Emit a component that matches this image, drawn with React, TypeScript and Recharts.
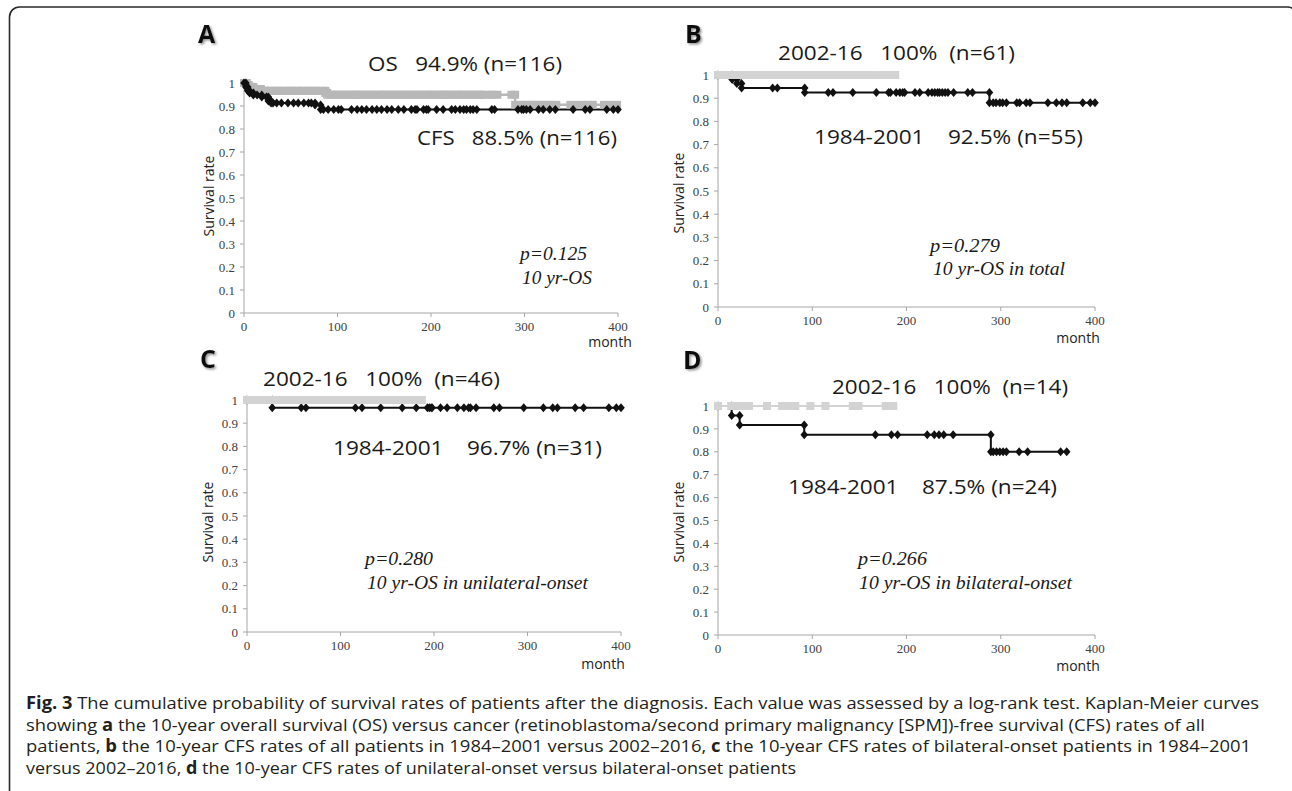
import React from "react";
import { LineChart, Line, XAxis, YAxis } from "recharts";

type Pt = [number, number];

// A: overall survival (gray) vs cancer-free survival (black), all patients
const osAll: Pt[] = [
  [0, 1], [3, 1], [3, 0.991], [5, 0.991], [5, 0.983], [8, 0.983], [10, 0.983], [10, 0.974], [13, 0.974], [16, 0.974],
  [18, 0.974], [18, 0.966], [21, 0.966], [23, 0.966], [27, 0.966], [29, 0.966], [33, 0.966], [36, 0.966], [38, 0.966],
  [42, 0.966], [45, 0.966], [49, 0.966], [51, 0.966], [55, 0.966], [58, 0.966], [61, 0.966], [64, 0.966], [68, 0.966],
  [70, 0.966], [74, 0.966], [77, 0.966], [80, 0.966], [84, 0.966], [87, 0.966], [87, 0.957], [89, 0.957], [89, 0.949],
  [92, 0.949], [95, 0.949], [99, 0.949], [101, 0.949], [105, 0.949], [108, 0.949], [111, 0.949], [115, 0.949],
  [118, 0.949], [120, 0.949], [124, 0.949], [127, 0.949], [130, 0.949], [134, 0.949], [136, 0.949], [140, 0.949],
  [143, 0.949], [147, 0.949], [150, 0.949], [152, 0.949], [156, 0.949], [159, 0.949], [162, 0.949], [166, 0.949],
  [168, 0.949], [172, 0.949], [175, 0.949], [178, 0.949], [182, 0.949], [185, 0.949], [188, 0.949], [191, 0.949],
  [195, 0.949], [198, 0.949], [200, 0.949], [204, 0.949], [207, 0.949], [211, 0.949], [214, 0.949], [216, 0.949],
  [220, 0.949], [223, 0.949], [227, 0.949], [230, 0.949], [233, 0.949], [236, 0.949], [240, 0.949], [243, 0.949],
  [246, 0.949], [250, 0.949], [253, 0.949], [255, 0.949], [262, 0.949], [266, 0.949], [271, 0.949], [286, 0.949],
  [290, 0.949], [290, 0.905], [296, 0.905], [300, 0.905], [304, 0.905], [308, 0.905], [312, 0.905], [316, 0.905],
  [320, 0.905], [325, 0.905], [330, 0.905], [334, 0.905], [349, 0.905], [355, 0.905], [362, 0.905], [368, 0.905],
  [373, 0.905], [385, 0.905], [392, 0.905], [399, 0.905],
];
const cfsAll: Pt[] = [
  [0, 1], [2, 1], [2, 0.983], [4, 0.983], [4, 0.966], [6, 0.966], [6, 0.957], [10, 0.957], [10, 0.948], [14, 0.948],
  [19, 0.948], [19, 0.939], [24, 0.939], [26, 0.939], [26, 0.922], [29, 0.922], [29, 0.913], [31, 0.913], [35, 0.913],
  [40, 0.913], [47, 0.913], [53, 0.913], [58, 0.913], [64, 0.913], [69, 0.913], [72, 0.913], [76, 0.913], [76, 0.904],
  [82, 0.904], [82, 0.885], [85, 0.885], [90, 0.885], [96, 0.885], [101, 0.885], [104, 0.885], [115, 0.885],
  [121, 0.885], [126, 0.885], [131, 0.885], [137, 0.885], [142, 0.885], [147, 0.885], [153, 0.885], [158, 0.885],
  [165, 0.885], [171, 0.885], [179, 0.885], [183, 0.885], [185, 0.885], [192, 0.885], [195, 0.885], [197, 0.885],
  [206, 0.885], [213, 0.885], [222, 0.885], [226, 0.885], [231, 0.885], [235, 0.885], [238, 0.885], [242, 0.885],
  [245, 0.885], [249, 0.885], [265, 0.885], [268, 0.885], [293, 0.885], [297, 0.885], [299, 0.885], [302, 0.885],
  [306, 0.885], [315, 0.885], [320, 0.885], [327, 0.885], [333, 0.885], [352, 0.885], [365, 0.885], [370, 0.885],
  [388, 0.885], [395, 0.885], [400, 0.885],
];

// B: all patients, 2002-16 (gray) vs 1984-2001 (black)
const b2002: Pt[] = [
  [0, 1], [2, 1], [5, 1], [7, 1], [10, 1], [12, 1], [15, 1], [17, 1], [19, 1], [22, 1], [25, 1], [27, 1], [30, 1],
  [33, 1], [36, 1], [39, 1], [42, 1], [45, 1], [48, 1], [51, 1], [54, 1], [57, 1], [60, 1], [63, 1], [66, 1], [69, 1],
  [72, 1], [75, 1], [78, 1], [81, 1], [84, 1], [87, 1], [90, 1], [94, 1], [98, 1], [102, 1], [106, 1], [110, 1],
  [114, 1], [118, 1], [121, 1], [124, 1], [128, 1], [132, 1], [136, 1], [140, 1], [144, 1], [148, 1], [152, 1],
  [157, 1], [162, 1], [170, 1], [175, 1], [180, 1], [184, 1], [188, 1],
];
const b1984: Pt[] = [
  [0, 1], [15, 1], [15, 0.981], [20, 0.981], [20, 0.963], [25, 0.963], [25, 0.944], [58, 0.944], [63, 0.944],
  [92, 0.944], [92, 0.925], [117, 0.925], [122, 0.925], [143, 0.925], [168, 0.925], [181, 0.925], [183, 0.925],
  [189, 0.925], [193, 0.925], [196, 0.925], [198, 0.925], [209, 0.925], [214, 0.925], [223, 0.925], [227, 0.925],
  [230, 0.925], [233, 0.925], [235, 0.925], [238, 0.925], [241, 0.925], [244, 0.925], [250, 0.925], [265, 0.925],
  [270, 0.925], [288, 0.925], [288, 0.88], [292, 0.88], [295, 0.88], [299, 0.88], [302, 0.88], [306, 0.88],
  [317, 0.88], [320, 0.88], [327, 0.88], [331, 0.88], [350, 0.88], [359, 0.88], [365, 0.88], [370, 0.88],
  [387, 0.88], [395, 0.88], [400, 0.88],
];

// C: unilateral-onset, 2002-16 (gray) vs 1984-2001 (black)
const c2002: Pt[] = [
  [0, 1], [3, 1], [6, 1], [9, 1], [12, 1], [16, 1], [19, 1], [22, 1], [26, 1], [29, 1], [33, 1], [36, 1], [40, 1],
  [43, 1], [47, 1], [50, 1], [54, 1], [58, 1], [61, 1], [65, 1], [68, 1], [72, 1], [76, 1], [80, 1], [84, 1], [88, 1],
  [92, 1], [96, 1], [100, 1], [105, 1], [109, 1], [113, 1], [117, 1], [119, 1], [124, 1], [129, 1], [134, 1],
  [139, 1], [144, 1], [149, 1], [153, 1], [160, 1], [167, 1], [174, 1], [180, 1], [187, 1],
];
const c1984: Pt[] = [
  [0, 1], [27, 1], [27, 0.967], [58, 0.967], [63, 0.967], [116, 0.967], [123, 0.967], [143, 0.967], [166, 0.967],
  [181, 0.967], [193, 0.967], [195, 0.967], [197, 0.967], [198, 0.967], [207, 0.967], [214, 0.967], [225, 0.967],
  [232, 0.967], [237, 0.967], [239, 0.967], [245, 0.967], [264, 0.967], [270, 0.967], [296, 0.967], [317, 0.967],
  [327, 0.967], [332, 0.967], [351, 0.967], [360, 0.967], [387, 0.967], [395, 0.967], [400, 0.967],
];

// D: bilateral-onset, 2002-16 (gray) vs 1984-2001 (black)
const d2002: Pt[] = [
  [0, 1], [14, 1], [20, 1], [27, 1], [33, 1], [52, 1], [68, 1], [75, 1], [82, 1], [98, 1], [114, 1], [143, 1],
  [149, 1], [178, 1], [186, 1],
];
const d1984: Pt[] = [
  [0, 1], [14.5, 1], [14.5, 0.958], [23, 0.958], [23, 0.917], [91.5, 0.917], [91.5, 0.875], [167, 0.875],
  [184, 0.875], [190.5, 0.875], [222, 0.875], [229.5, 0.875], [234.5, 0.875], [239.5, 0.875], [249.5, 0.875],
  [289.5, 0.875], [289.5, 0.8], [292, 0.8], [295.5, 0.8], [299, 0.8], [302.5, 0.8], [306, 0.8], [319.5, 0.8],
  [328.5, 0.8], [363.5, 0.8], [370, 0.8],
];

const xTicks = [0, 100, 200, 300, 400];
const yTicks = [0, 0.1, 0.2, 0.3, 0.4, 0.5, 0.6, 0.7, 0.8, 0.9, 1];

// caption: [text, bold]
const captionLines: [string, boolean][][] = [
  [["Fig. 3", true], [" The cumulative probability of survival rates of patients after the diagnosis. Each value was assessed by a log-rank test. Kaplan-Meier curves", false]],
  [["showing ", false], ["a", true], [" the 10-year overall survival (OS) versus cancer (retinoblastoma/second primary malignancy [SPM])-free survival (CFS) rates of all", false]],
  [["patients, ", false], ["b", true], [" the 10-year CFS rates of all patients in 1984\u20132001 versus 2002\u20132016, ", false], ["c", true], [" the 10-year CFS rates of bilateral-onset patients in 1984\u20132001", false]],
  [["versus 2002\u20132016, ", false], ["d", true], [" the 10-year CFS rates of unilateral-onset versus bilateral-onset patients", false]],
];

const SERIF = '"Liberation Serif", "Times New Roman", serif';
const SANS = '"Open Sans", "Noto Sans", sans-serif';

type Series = { data: Pt[]; color: string; marker: "diamond" | "square"; width: number };

const toRows = (pts: Pt[]) => pts.map(([t, s]) => ({ t, s }));

function makeDot(kind: "diamond" | "square", color: string) {
  // eslint-disable-next-line @typescript-eslint/no-explicit-any
  return (p: any) => {
    const { cx, cy, index } = p;
    if (cx == null || cy == null) return <g key={`e-${index}`} />;
    if (kind === "diamond") {
      return (
        <path
          key={`m-${index}`}
          d={`M${cx},${cy - 4.5}L${cx + 3.8},${cy}L${cx},${cy + 4.5}L${cx - 3.8},${cy}Z`}
          fill={color}
        />
      );
    }
    return <rect key={`m-${index}`} x={cx - 4} y={cy - 4} width={8} height={8} fill={color} />;
  };
}

function KMPanel({ x0, y0, x1, y1, series }: { x0: number; y0: number; x1: number; y1: number; series: Series[] }) {
  const padL = 50, padT = 10, padR = 20, padB = 30;
  const w = x1 - x0 + padL + padR;
  const h = y1 - y0 + padT + padB;
  const tickStyle = { fontFamily: SERIF, fontSize: 13, fill: "#404040" };
  return (
    <div style={{ position: "absolute", left: x0 - padL, top: y0 - padT, width: w, height: h }}>
      <LineChart width={w} height={h} margin={{ top: padT, right: padR, left: 0, bottom: 0 }} style={{ overflow: "visible" }}>
        <XAxis
          type="number"
          dataKey="t"
          domain={[0, 400]}
          ticks={xTicks}
          interval={0}
          height={padB}
          tickSize={4}
          tickMargin={5}
          axisLine={{ stroke: "#a6a6a6" }}
          tickLine={{ stroke: "#a6a6a6" }}
          tick={tickStyle}
        />
        <YAxis
          type="number"
          dataKey="s"
          domain={[0, 1]}
          ticks={yTicks}
          interval={0}
          width={padL}
          tickSize={4}
          tickMargin={5}
          tickFormatter={(v: number) => (v === 0 || v === 1 ? String(v) : v.toFixed(1))}
          axisLine={{ stroke: "#a6a6a6" }}
          tickLine={{ stroke: "#a6a6a6" }}
          tick={tickStyle}
        />
        {series.map((s, i) => (
          <Line
            key={i}
            data={toRows(s.data)}
            dataKey="s"
            type="linear"
            stroke={s.color}
            strokeWidth={s.width}
            dot={makeDot(s.marker, s.color)}
            activeDot={false}
            isAnimationActive={false}
          />
        ))}
      </LineChart>
    </div>
  );
}

const panels = [
  {
    letter: "A", lx: 198, ly: 43, x0: 244, y0: 83, x1: 618, y1: 313,
    series: [
      { data: osAll, color: "#b8b8b8", marker: "square", width: 2.5 },
      { data: cfsAll, color: "#111111", marker: "diamond", width: 2 },
    ] as Series[],
    notes: [
      { text: "OS   94.9% (n=116)", x: 368, y: 71, w: 194 },
      { text: "CFS   88.5% (n=116)", x: 417, y: 145, w: 200 },
    ],
    stats: [
      { text: "p=0.125", x: 520, y: 260, w: 67 },
      { text: "10 yr-OS", x: 522, y: 284, w: 70 },
    ],
    ylab: [208, 196], month: [610, 347],
  },
  {
    letter: "B", lx: 685, ly: 43, x0: 718, y0: 75, x1: 1095, y1: 307,
    series: [
      { data: b1984, color: "#111111", marker: "diamond", width: 2 },
      { data: b2002, color: "#d3d3d3", marker: "square", width: 2 },
    ] as Series[],
    notes: [
      { text: "2002-16   100%  (n=61)", x: 778, y: 60, w: 237 },
      { text: "1984-2001    92.5% (n=55)", x: 814, y: 144, w: 269 },
    ],
    stats: [
      { text: "p=0.279", x: 930, y: 252, w: 70 },
      { text: "10 yr-OS in total", x: 933, y: 275, w: 132 },
    ],
    ylab: [678, 193], month: [1078, 343],
  },
  {
    letter: "C", lx: 200, ly: 368, x0: 247, y0: 400, x1: 621, y1: 632,
    series: [
      { data: c1984, color: "#111111", marker: "diamond", width: 2 },
      { data: c2002, color: "#d3d3d3", marker: "square", width: 2 },
    ] as Series[],
    notes: [
      { text: "2002-16   100%  (n=46)", x: 263, y: 386, w: 237 },
      { text: "1984-2001    96.7% (n=31)", x: 333, y: 455, w: 269 },
    ],
    stats: [
      { text: "p=0.280", x: 365, y: 565, w: 68 },
      { text: "10 yr-OS in unilateral-onset", x: 367, y: 589, w: 221 },
    ],
    ylab: [207, 522], month: [603, 669],
  },
  {
    letter: "D", lx: 683, ly: 369, x0: 718, y0: 406, x1: 1095, y1: 635,
    series: [
      { data: d1984, color: "#111111", marker: "diamond", width: 2 },
      { data: d2002, color: "#d3d3d3", marker: "square", width: 2 },
    ] as Series[],
    notes: [
      { text: "2002-16   100%  (n=14)", x: 832, y: 394, w: 236 },
      { text: "1984-2001    87.5% (n=24)", x: 788, y: 494, w: 269 },
    ],
    stats: [
      { text: "p=0.266", x: 858, y: 565, w: 69 },
      { text: "10 yr-OS in bilateral-onset", x: 859, y: 589, w: 213 },
    ],
    ylab: [678, 522], month: [1078, 671],
  },
];

const captionWidths = [1233, 1179, 1225, 770];

export default function App() {
  return (
    <div style={{ position: "absolute", left: 0, top: 0, width: 1292, height: 791, background: "#fff", overflow: "hidden" }}>
      <svg width={1292} height={791} style={{ position: "absolute", left: 0, top: 0 }}>
        <defs>
          <filter id="shadow" x="-20%" y="-20%" width="160%" height="160%">
            <feDropShadow dx="1.5" dy="1.5" stdDeviation="0.8" floodColor="#777" floodOpacity="0.8" />
          </filter>
        </defs>
        <rect x={9.5} y={7} width={1288} height={800} rx={10} fill="none" stroke="#2a2a2a" strokeWidth={1.6} />
        {panels.map((p) => (
          <g key={p.letter}>
            <text x={p.lx} y={p.ly} fontFamily={SANS} fontWeight={700} fontSize={25} fill="#111" filter="url(#shadow)">
              {p.letter}
            </text>
            {p.notes.map((n) => (
              <text key={n.text} x={n.x} y={n.y} fontFamily={SANS} fontSize={20} fill="#1a1a1a"
                textLength={n.w} lengthAdjust="spacingAndGlyphs" style={{ whiteSpace: "pre" }}>
                {n.text}
              </text>
            ))}
            {p.stats.map((n) => (
              <text key={n.text} x={n.x} y={n.y} fontFamily={SERIF} fontStyle="italic" fontSize={18} fill="#1a1a1a"
                textLength={n.w} lengthAdjust="spacingAndGlyphs">
                {n.text}
              </text>
            ))}
            <text x={p.ylab[0]} y={p.ylab[1]} transform={`rotate(-90 ${p.ylab[0]} ${p.ylab[1]})`} textAnchor="middle"
              dominantBaseline="central" fontFamily={SANS} fontSize={14} fill="#222">
              Survival rate
            </text>
            <text x={p.month[0]} y={p.month[1]} textAnchor="middle" fontFamily={SANS} fontSize={14} fill="#222">
              month
            </text>
          </g>
        ))}
        {captionLines.map((line, i) => (
          <text key={i} x={26} y={709 + i * 21.7} fontFamily={SANS} fontSize={17} fill="#231f20"
            textLength={captionWidths[i]} lengthAdjust="spacingAndGlyphs" style={{ whiteSpace: "pre" }}>
            {line.map(([txt, bold], j) => (
              <tspan key={j} fontWeight={bold ? 700 : 400}>{txt}</tspan>
            ))}
          </text>
        ))}
      </svg>
      {panels.map((p) => (
        <KMPanel key={p.letter} x0={p.x0} y0={p.y0} x1={p.x1} y1={p.y1} series={p.series} />
      ))}
    </div>
  );
}
